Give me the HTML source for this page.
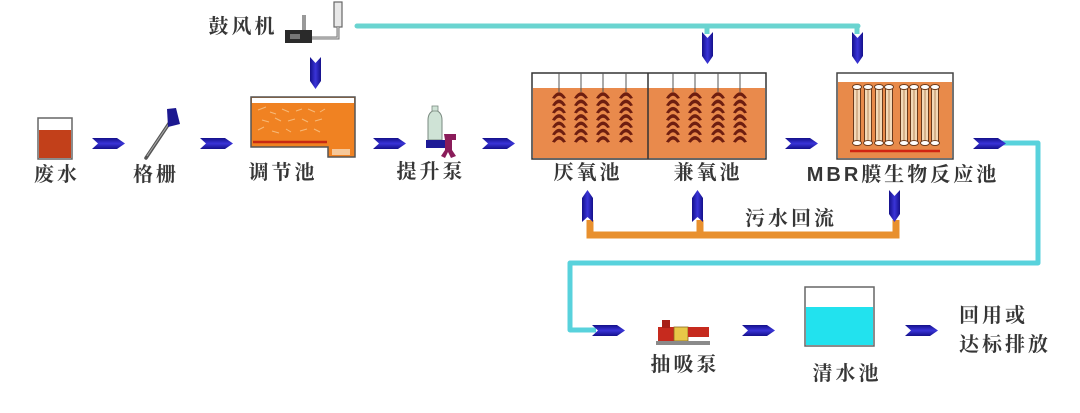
<!DOCTYPE html>
<html>
<head>
<meta charset="utf-8">
<style>
html,body{margin:0;padding:0;background:#fff;}
body{width:1080px;height:413px;overflow:hidden;}
svg{display:block;}
.lb{font-family:"Liberation Sans","Noto Serif CJK SC","Noto Sans CJK SC",serif;font-size:20px;font-weight:700;fill:#363636;letter-spacing:3px;}
</style>
</head>
<body>
<svg width="1080" height="413" viewBox="0 0 1080 413" xmlns="http://www.w3.org/2000/svg">
<defs>
  <linearGradient id="ah" x1="0" y1="0" x2="0" y2="1">
    <stop offset="0" stop-color="#14108a"/>
    <stop offset="0.5" stop-color="#3a34d8"/>
    <stop offset="1" stop-color="#14108a"/>
  </linearGradient>
  <linearGradient id="av" x1="0" y1="0" x2="1" y2="0">
    <stop offset="0" stop-color="#14108a"/>
    <stop offset="0.5" stop-color="#3a34d8"/>
    <stop offset="1" stop-color="#14108a"/>
  </linearGradient>
  <polygon id="harr" points="0,0 25,0 33,5.5 25,11 0,11 6,5.5" fill="url(#ah)"/>
  <polygon id="darr" points="0,0 5.5,6 11,0 11,24 5.5,32 0,24" fill="url(#av)"/>
  <polygon id="uarr" points="5.5,0 11,8 11,32 5.5,27 0,32 0,8" fill="url(#av)"/>
  <path id="chev" d="M-7,6 Q0,-5.5 7,6 L4.2,6.8 Q0,0.8 -4.2,6.8 Z" fill="#6e1e10"/>
  <g id="col">
    <use href="#chev" y="92"/>
    <use href="#chev" y="99.3"/>
    <use href="#chev" y="106.6"/>
    <use href="#chev" y="113.9"/>
    <use href="#chev" y="121.2"/>
    <use href="#chev" y="128.5"/>
    <use href="#chev" y="135.8"/>
  </g>
  <g id="tube">
    <rect x="-3.5" y="86" width="7" height="58" fill="#f3d9b8" stroke="#6a3a1c" stroke-width="1"/>
    <line x1="0" y1="90" x2="0" y2="140" stroke="#b88a60" stroke-width="1"/>
    <ellipse cx="0" cy="87" rx="4.5" ry="2.5" fill="#fff" stroke="#6a3a1c" stroke-width="1"/>
    <ellipse cx="0" cy="143" rx="4.5" ry="2.5" fill="#fff" stroke="#6a3a1c" stroke-width="1"/>
  </g>
</defs>

<!-- cyan air line top -->
<path d="M357,26 L858,26" stroke="#6ad4d0" stroke-width="5" fill="none" stroke-linecap="round"/>
<path d="M707,26 L707,34 M857,26 L857,34" stroke="#6ad4d0" stroke-width="5" fill="none"/>

<!-- blower -->
<rect x="334" y="2" width="8" height="25" fill="#e8e8e8" stroke="#666" stroke-width="1.2"/>
<path d="M312,38 L338,38 L338,27" stroke="#777" stroke-width="3" fill="none"/>
<path d="M312,38 L338,38 L338,27" stroke="#ddd" stroke-width="1" fill="none"/>
<rect x="302" y="15" width="4" height="16" fill="#999"/>
<rect x="285" y="30" width="27" height="13" fill="#2a2a2a"/>
<rect x="290" y="34" width="10" height="5" fill="#777"/>
<text class="lb" x="243" y="27" text-anchor="middle" dominant-baseline="central">鼓风机</text>
<use href="#darr" x="310" y="57"/>

<!-- 废水 tank -->
<rect x="38" y="118" width="34" height="41" fill="#fff" stroke="#666" stroke-width="1.5"/>
<rect x="39" y="130" width="32" height="28" fill="#c2401a"/>
<text class="lb" x="57" y="175" text-anchor="middle" dominant-baseline="central">废水</text>
<use href="#harr" x="92" y="138"/>

<!-- 格栅 -->
<line x1="146" y1="158" x2="170" y2="122" stroke="#555" stroke-width="3.5" stroke-linecap="round"/>
<line x1="147" y1="156" x2="170" y2="122" stroke="#aaa" stroke-width="1"/>
<polygon points="167,109 176,108 180,124 168,127" fill="#1c1890"/>
<text class="lb" x="156" y="175" text-anchor="middle" dominant-baseline="central">格栅</text>
<use href="#harr" x="200" y="138"/>

<!-- 调节池 -->
<path d="M251,97 L355,97 L355,157 L328,157 L328,147 L251,147 Z" fill="#f08222" stroke="#555" stroke-width="1.5"/>
<rect x="252" y="98" width="102" height="5" fill="#fff"/>
<line x1="253" y1="142" x2="327" y2="142" stroke="#c82a12" stroke-width="2.5"/>
<rect x="332" y="149" width="18" height="6" fill="#f6c89a"/>
<g stroke="#f8c890" stroke-width="1" opacity="0.8">
  <path d="M258,110 l8,-3 M270,112 l6,2 M282,109 l7,3 M296,111 l6,-2 M308,109 l7,3 M320,112 l5,-3 M262,120 l7,2 M275,118 l6,3 M288,121 l7,-2 M302,119 l6,3 M315,121 l7,-2 M258,130 l6,-3 M272,131 l7,2 M286,129 l5,3 M300,131 l7,-2 M314,129 l6,3"/>
</g>
<text class="lb" x="283" y="173" text-anchor="middle" dominant-baseline="central">调节池</text>
<use href="#harr" x="373" y="138"/>

<!-- 提升泵 -->
<path d="M428,140 L428,120 Q428,112 435,110 Q442,112 442,120 L442,140 Z" fill="#cfe3d6" stroke="#7a8a80" stroke-width="1"/>
<rect x="432" y="106" width="6" height="5" fill="#cfe3d6" stroke="#7a8a80" stroke-width="0.8"/>
<rect x="426" y="140" width="20" height="8" fill="#1e1a96"/>
<path d="M444,134 L456,134 L456,140 L452,140 L452,150 L456,156 L451,158 L448,152 L445,158 L441,156 L445,150 L445,140 Z" fill="#8a1c5a"/>
<text class="lb" x="431" y="172" text-anchor="middle" dominant-baseline="central">提升泵</text>
<use href="#harr" x="482" y="138"/>

<!-- 厌氧/兼氧 tank -->
<rect x="532" y="73" width="234" height="86" fill="#fff" stroke="#333" stroke-width="1.5"/>
<rect x="533" y="88" width="232" height="70" fill="#e98a4c"/>
<line x1="648" y1="73" x2="648" y2="159" stroke="#333" stroke-width="1.5"/>
<g stroke="#555" stroke-width="1">
  <line x1="559" y1="73" x2="559" y2="92"/><line x1="581" y1="73" x2="581" y2="92"/>
  <line x1="603" y1="73" x2="603" y2="92"/><line x1="626" y1="73" x2="626" y2="92"/>
  <line x1="673" y1="73" x2="673" y2="92"/><line x1="695" y1="73" x2="695" y2="92"/>
  <line x1="718" y1="73" x2="718" y2="92"/><line x1="740" y1="73" x2="740" y2="92"/>
</g>
<use href="#col" x="559"/><use href="#col" x="581"/><use href="#col" x="603"/><use href="#col" x="626"/>
<use href="#col" x="673"/><use href="#col" x="695"/><use href="#col" x="718"/><use href="#col" x="740"/>
<text class="lb" x="588" y="173" text-anchor="middle" dominant-baseline="central">厌氧池</text>
<text class="lb" x="708" y="173" text-anchor="middle" dominant-baseline="central">兼氧池</text>

<use href="#darr" x="702" y="32"/>
<use href="#darr" x="852" y="32"/>
<use href="#harr" x="785" y="138"/>

<!-- MBR tank -->
<rect x="837" y="73" width="116" height="86" fill="#fff" stroke="#444" stroke-width="1.5"/>
<rect x="838" y="82" width="114" height="76" fill="#e88a4a"/>
<use href="#tube" x="857"/><use href="#tube" x="868"/><use href="#tube" x="879"/><use href="#tube" x="889"/>
<use href="#tube" x="904"/><use href="#tube" x="914"/><use href="#tube" x="925"/><use href="#tube" x="935"/>
<line x1="850" y1="151" x2="940" y2="151" stroke="#d02412" stroke-width="2.5"/>
<text class="lb" x="903" y="175" text-anchor="middle" dominant-baseline="central">MBR膜生物反应池</text>

<!-- return sludge -->
<path d="M590,220 L590,235 L896,235 L896,220 M700,220 L700,235" stroke="#e8902e" stroke-width="7" fill="none"/>
<use href="#uarr" x="582" y="190"/>
<use href="#uarr" x="692" y="190"/>
<use href="#darr" x="889" y="190"/>
<text class="lb" x="791" y="219" text-anchor="middle" dominant-baseline="central">污水回流</text>

<!-- cyan outflow -->
<path d="M1000,143 L1038,143 L1038,263 L570,263 L570,330 L596,330" stroke="#58d2dc" stroke-width="5" fill="none" stroke-linejoin="round"/>
<use href="#harr" x="973" y="138"/>
<use href="#harr" x="592" y="325"/>

<!-- 抽吸泵 -->
<rect x="658" y="327" width="16" height="14" fill="#c62a1e"/>
<rect x="662" y="320" width="8" height="8" fill="#a81e16"/>
<rect x="674" y="327" width="14" height="14" fill="#e8c848" stroke="#8a6a20" stroke-width="0.8"/>
<rect x="688" y="327" width="21" height="10" fill="#c62a1e"/>
<rect x="656" y="341" width="54" height="4" fill="#8a8a8a"/>
<text class="lb" x="685" y="365" text-anchor="middle" dominant-baseline="central">抽吸泵</text>
<use href="#harr" x="742" y="325"/>

<!-- 清水池 -->
<rect x="805" y="287" width="69" height="59" fill="#fff" stroke="#666" stroke-width="1.5"/>
<rect x="806" y="307" width="67" height="38" fill="#22e2ee"/>
<text class="lb" x="847" y="374" text-anchor="middle" dominant-baseline="central">清水池</text>
<use href="#harr" x="905" y="325"/>

<text class="lb" x="959" y="316" dominant-baseline="central">回用或</text>
<text class="lb" x="959" y="345" dominant-baseline="central">达标排放</text>
</svg>
</body>
</html>
